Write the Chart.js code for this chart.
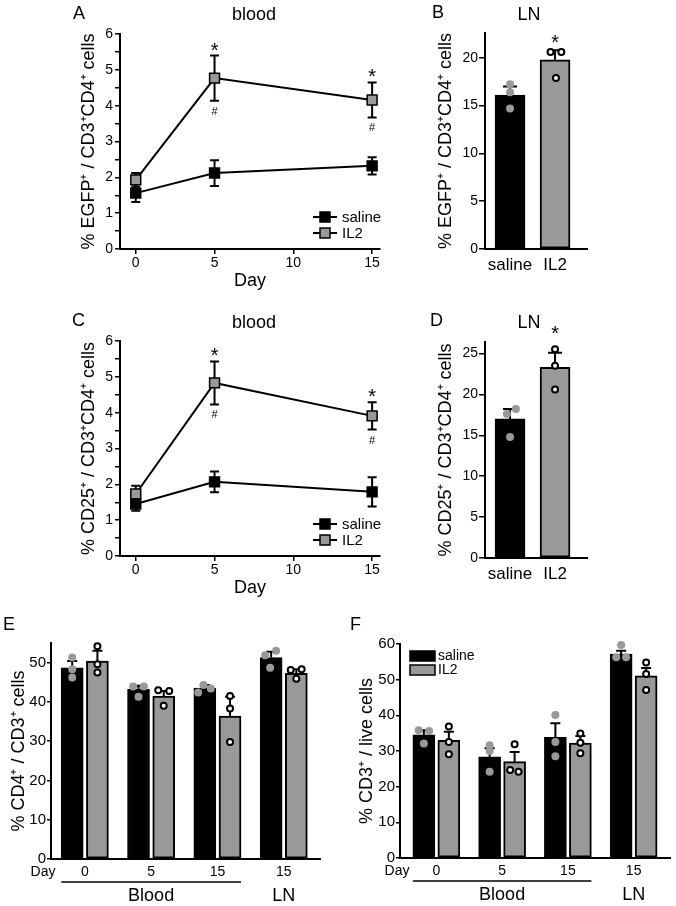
<!DOCTYPE html>
<html><head><meta charset="utf-8">
<script src="https://cdn.jsdelivr.net/npm/chart.js@4"></script>
<style>
html,body{margin:0;padding:0;background:#fff;}
#wrap{position:relative;width:676px;height:906px;overflow:hidden;font-family:"Liberation Sans",Arial,Helvetica,sans-serif;color:#000;}
canvas{position:absolute;left:0;top:0;}
.t{position:absolute;line-height:1;white-space:nowrap;font-size:18px;}
.c{width:100px;text-align:center;}
</style></head><body>
<div id="wrap">
<canvas id="cA" width="676" height="906"></canvas>
<canvas id="cB" width="676" height="906"></canvas>
<canvas id="cC" width="676" height="906"></canvas>
<canvas id="cD" width="676" height="906"></canvas>
<canvas id="cE" width="676" height="906"></canvas>
<canvas id="cF" width="676" height="906"></canvas>
<div class="t" style="left:73px;top:4px;">A</div>
<div class="t c" style="left:204px;top:5px;">blood</div>
<div class="t" style="left:432px;top:3px;">B</div>
<div class="t c" style="left:479px;top:5px;">LN</div>
<div class="t" style="left:72px;top:311px;">C</div>
<div class="t c" style="left:204px;top:313px;">blood</div>
<div class="t" style="left:430px;top:311px;">D</div>
<div class="t c" style="left:479px;top:313px;">LN</div>
<div class="t" style="left:3px;top:615px;">E</div>
<div class="t" style="left:350px;top:615px;">F</div>
</div>
<script>
// ---------------- DATA ----------------
const days = [0, 5, 15];
const dayTicks = [0, 5, 10, 15];
const seriesNames = ['saline', 'IL2'];
const lineYTicks = [0, 0.5, 1, 1.5, 2, 2.5, 3, 3.5, 4, 4.5, 5, 5.5, 6];

// Panel A (blood, EGFP+)
const aSaline = [1.56, 2.12, 2.32];
const aSalineErr = [0.25, 0.36, 0.24];
const aIL2 = [1.93, 4.77, 4.16];
const aIL2Err = [0.19, 0.63, 0.49];
const aSig = [false, true, true];

// Panel C (blood, CD25+)
const cSaline = [1.45, 2.07, 1.79];
const cSalineErr = [0.19, 0.29, 0.41];
const cIL2 = [1.73, 4.83, 3.91];
const cIL2Err = [0.23, 0.60, 0.38];
const cSig = [false, true, true];

// Panel B (LN, EGFP+)
const lnGroups = ['saline', 'IL2'];
const bYTicks = [0, 5, 10, 15, 20];
const bMeans = [16.1, 19.8];
const bSD = [0.9, 1.0];
const bDots = [[17.25, 16.4, 14.7], [20.6, 20.6, 17.9]];
const bJit = [[0, 0, 0], [-0.1, 0.14, 0.02]];
const bSig = [false, true];

// Panel D (LN, CD25+)
const dYTicks = [0, 5, 10, 15, 20, 25];
const dMeans = [17.0, 23.3];
const dSD = [1.2, 1.8];
const dDots = [[17.6, 18.2, 14.8], [25.5, 23.5, 20.6]];
const dJit = [[-0.07, 0.13, 0], [0, 0, 0]];
const dSig = [false, true];

// Panels E/F categories
const groupDays = ['0', '5', '15', '15'];
const groupTissue = ['Blood', 'Blood', 'Blood', 'LN'];

// Panel E (% CD4+ / CD3+)
const eYTicks = [0, 10, 20, 30, 40, 50];
const eSaline = [48.7, 43.2, 43.5, 51.3];
const eSalineErr = [1.7, 0.9, 0.8, 1.5];
const eIL2 = [50.4, 41.5, 36.4, 47.3];
const eIL2Err = [2.6, 1.3, 4.9, 1.0];
const eDotsSaline = [[51.3, 48.3, 46.2], [43.9, 43.9, 41.3], [42.4, 44.3, 43.4], [51.9, 53.0, 48.7]];
const eDotsIL2 = [[54.2, 49.6, 47.5], [43.0, 42.8, 39.0], [41.5, 38.3, 29.8], [48.1, 48.3, 45.9]];
const eJitSaline = [[0, 0, 0], [-0.08, 0.08, 0], [-0.1, -0.02, 0.09], [-0.09, 0.075, -0.015]];
const eJitIL2 = [[0, 0, 0], [-0.083, 0.083, 0], [0, 0, 0], [-0.085, 0.08, 0]];

// Panel F (% CD3+ / live)
const fYTicks = [0, 10, 20, 30, 40, 50, 60];
const fSaline = [34.5, 28.4, 33.8, 57.2];
const fSalineErr = [1.3, 2.4, 4.0, 0.9];
const fIL2 = [33.0, 27.0, 32.2, 51.1];
const fIL2Err = [2.4, 2.7, 2.0, 2.2];
const fDotsSaline = [[35.8, 35.6, 32.1], [31.6, 30.0, 24.2], [40.1, 32.5, 28.5], [59.7, 56.3, 56.3]];
const fDotsIL2 = [[36.9, 32.5, 29.1], [31.9, 24.7, 24.2], [34.9, 32.3, 29.4], [54.8, 51.6, 47.1]];
const fJitSaline = [[-0.08, 0.08, 0], [0, 0, 0], [0, 0, 0], [0, -0.075, 0.075]];
const fJitIL2 = [[0, 0, 0], [0, -0.068, 0.06], [0, 0, 0], [0, 0, 0]];

// ---------------- STYLE / LAYOUT ----------------
const FONT = '"Liberation Sans", Arial, Helvetica, sans-serif';
const GRAY = '#999999';
const PAGE_W = 676, PAGE_H = 906;
Chart.defaults.font.family = FONT;
Chart.defaults.color = '#000';
Chart.defaults.animation = false;
Chart.defaults.events = [];
Chart.defaults.plugins.legend.display = false;
Chart.defaults.plugins.tooltip.enabled = false;

function pad(area, yW, xH) {
  return { left: area.l - yW, top: area.t, right: PAGE_W - area.r, bottom: PAGE_H - area.b - xH };
}
const fixW = w => s => { s.width = w; };
const fixH = h => s => { s.height = h; };
const setTicks = vals => s => { s.ticks = vals.map(v => ({ value: v })); };
const BORDER = { display: true, color: '#000', width: 2 };

function yAxis(o) {
  return {
    type: 'linear', min: 0, max: o.max,
    afterBuildTicks: setTicks(o.ticks),
    afterFit: fixW(o.w),
    border: BORDER,
    grid: { display: true, drawOnChartArea: false, drawTicks: true, tickLength: o.tl, color: '#000', lineWidth: 1.5 },
    ticks: { font: { size: o.fs }, color: '#000', padding: o.tp, autoSkip: false, callback: o.cb || (v => v) },
    title: { display: true, text: o.title, font: { size: 18 }, color: '#000', padding: 0 }
  };
}

// error bars for line charts (both directions)
const lineErrPlugin = {
  id: 'lineErr',
  beforeDatasetsDraw(chart) {
    const { ctx } = chart; const ys = chart.scales.y;
    chart.data.datasets.forEach((ds, i) => {
      const meta = chart.getDatasetMeta(i);
      ctx.save(); ctx.strokeStyle = '#000'; ctx.lineWidth = 2;
      meta.data.forEach((el, j) => {
        const v = ds.data[j].y, e = ds.errors[j];
        const hi = ys.getPixelForValue(v + e), lo = ys.getPixelForValue(v - e);
        ctx.beginPath();
        ctx.moveTo(el.x, hi); ctx.lineTo(el.x, lo);
        ctx.moveTo(el.x - 4.5, hi); ctx.lineTo(el.x + 4.5, hi);
        ctx.moveTo(el.x - 4.5, lo); ctx.lineTo(el.x + 4.5, lo);
        ctx.stroke();
      });
      ctx.restore();
    });
  }
};
const lineSigPlugin = {
  id: 'lineSig',
  afterDatasetsDraw(chart) {
    const { ctx } = chart; const ys = chart.scales.y;
    chart.data.datasets.forEach((ds, i) => {
      if (!ds.sig) return;
      const meta = chart.getDatasetMeta(i);
      ctx.save(); ctx.fillStyle = '#000'; ctx.textAlign = 'center'; ctx.textBaseline = 'alphabetic';
      meta.data.forEach((el, j) => {
        if (!ds.sig[j]) return;
        const v = ds.data[j].y, e = ds.errors[j];
        ctx.font = '20px ' + FONT;
        ctx.fillText('*', el.x, ys.getPixelForValue(v + e) + 1);
        ctx.font = '11px ' + FONT;
        ctx.fillText('#', el.x, ys.getPixelForValue(v - e) + 14);
      });
      ctx.restore();
    });
  }
};
const lineLegendPlugin = {
  id: 'lineLegend',
  afterDatasetsDraw(chart) {
    const { ctx, chartArea } = chart;
    const cx = chartArea.right - 55;
    chart.data.datasets.forEach((ds, i) => {
      const y = chartArea.bottom - 32 + i * 16;
      ctx.save();
      ctx.strokeStyle = '#000'; ctx.lineWidth = 2;
      ctx.beginPath(); ctx.moveTo(cx - 12, y); ctx.lineTo(cx + 12, y); ctx.stroke();
      ctx.fillStyle = ds.pointBackgroundColor; ctx.lineWidth = 1.5;
      ctx.fillRect(cx - 5, y - 5, 10, 10); ctx.strokeRect(cx - 5, y - 5, 10, 10);
      ctx.fillStyle = '#000'; ctx.font = '15px ' + FONT; ctx.textAlign = 'left'; ctx.textBaseline = 'middle';
      ctx.fillText(ds.label, cx + 17, y + 1);
      ctx.restore();
    });
  }
};

function lineChart(id, area, sal, salErr, il2, il2Err, sig, yTitle) {
  const mk = (name, vals, errs, fill, s) => ({
    label: name, data: days.map((d, i) => ({ x: d, y: vals[i] })), errors: errs, sig: s,
    borderColor: '#000', borderWidth: 2, pointStyle: 'rect', pointRadius: 7, pointBorderWidth: 1.5,
    pointBackgroundColor: fill, pointBorderColor: '#000', tension: 0, clip: false, fill: false
  });
  return new Chart(document.getElementById(id), {
    type: 'line',
    data: { datasets: [mk(seriesNames[0], sal, salErr, '#000', null), mk(seriesNames[1], il2, il2Err, GRAY, sig)] },
    options: {
      responsive: false, layout: { padding: pad(area, 42, 43) },
      scales: {
        x: {
          type: 'linear', min: -1, max: 15.5, offset: false,
          afterBuildTicks: setTicks(dayTicks), afterFit: fixH(43), border: BORDER,
          grid: { display: true, drawOnChartArea: false, tickLength: 5, color: '#000', lineWidth: 1.5 },
          ticks: { font: { size: 14 }, color: '#000', padding: 1, autoSkip: false, maxRotation: 0 },
          title: { display: true, text: 'Day', font: { size: 18 }, color: '#000', padding: 0 }
        },
        y: yAxis({ max: 6, ticks: lineYTicks, w: 42, tl: 5, fs: 14, tp: 2, title: yTitle,
          cb: v => Number.isInteger(v) ? v : '' })
      }
    },
    plugins: [lineErrPlugin, lineSigPlugin, lineLegendPlugin]
  });
}

// error bars (upward) + significance for bar charts
const barErrPlugin = {
  id: 'barErr',
  afterDatasetDraw(chart, args) {
    const ds = chart.data.datasets[args.index];
    if (!ds.errors) return;
    const { ctx } = chart; const ys = chart.scales.y;
    ctx.save(); ctx.strokeStyle = '#000'; ctx.lineWidth = 2;
    args.meta.data.forEach((el, j) => {
      const top = ys.getPixelForValue(ds.data[j].y + ds.errors[j]);
      ctx.beginPath();
      ctx.moveTo(el.x, el.y); ctx.lineTo(el.x, top);
      ctx.moveTo(el.x - ds.cap / 2, top); ctx.lineTo(el.x + ds.cap / 2, top);
      ctx.stroke();
    });
    ctx.restore();
  },
  afterDatasetsDraw(chart) {
    const { ctx } = chart; const ys = chart.scales.y;
    chart.data.datasets.forEach((ds, i) => {
      if (!ds.sig) return;
      const meta = chart.getDatasetMeta(i);
      meta.data.forEach((el, j) => {
        if (!ds.sig[j]) return;
        let anchor = ys.getPixelForValue(ds.data[j].y + ds.errors[j]);
        ds.dotVals[j].forEach(v => { anchor = Math.min(anchor, ys.getPixelForValue(v) - 4); });
        ctx.save(); ctx.fillStyle = '#000'; ctx.textAlign = 'center'; ctx.textBaseline = 'alphabetic';
        ctx.font = '20px ' + FONT;
        ctx.fillText('*', el.x, anchor + ds.starGap);
        ctx.restore();
      });
    });
  }
};

function dotSet(vals, jit, off, saline) {
  const pts = [];
  vals.forEach((arr, g) => arr.forEach((v, k) => pts.push({ x: g + 1 + off + jit[g][k], y: v })));
  return saline
    ? { type: 'scatter', data: pts, pointRadius: 4, pointBorderWidth: 0, pointBackgroundColor: GRAY, pointBorderColor: GRAY, order: 1, clip: false }
    : { type: 'scatter', data: pts, pointRadius: 3, pointBorderWidth: 2, pointBackgroundColor: '#fff', pointBorderColor: '#000', order: 1, clip: false };
}

function lnChart(id, area, means, sd, dots, jit, sig, yMax, yTicks, yTitle, starGap) {
  return new Chart(document.getElementById(id), {
    type: 'bar',
    data: { datasets: [
      { type: 'bar', data: means.map((m, i) => ({ x: i + 1, y: m })), errors: sd, sig: sig, dotVals: dots, starGap: starGap, cap: 14,
        backgroundColor: ['#000', GRAY], borderColor: '#000', borderWidth: 2, borderSkipped: false,
        barThickness: 30, grouped: false, order: 2 },
      dotSet([dots[0], []], jit, 0, true),
      dotSet([[], dots[1]], jit, 0, false)
    ] },
    options: {
      responsive: false, layout: { padding: pad(area, 50, 30) },
      scales: {
        x: {
          type: 'linear', min: 0.444, max: 2.71, offset: false,
          afterBuildTicks: setTicks([1, 2]), afterFit: fixH(30), border: BORDER,
          grid: { display: true, drawOnChartArea: false, drawTicks: false, offset: false },
          ticks: { font: { size: 17 }, color: '#000', padding: 6, autoSkip: false, maxRotation: 0, callback: (v, i) => lnGroups[i] }
        },
        y: yAxis({ max: yMax, ticks: yTicks, w: 50, tl: 6, fs: 14, tp: 1, title: yTitle })
      }
    },
    plugins: [barErrPlugin]
  });
}

const PAIR = 0.19;
function pairedChart(id, area, yW, xMin, xMax, yMax, yTicks, yTitle, sal, salErr, il2, il2Err, dS, jS, dI, jI, dayDx, withLegend) {
  const legendPlugin = {
    id: 'barLegend',
    afterDatasetsDraw(chart) {
      if (!withLegend) return;
      const { ctx, chartArea } = chart;
      [['#000', seriesNames[0]], [GRAY, seriesNames[1]]].forEach(([c, name], i) => {
        const x = chartArea.left + 10, y = chartArea.top + 7 + i * 14;
        ctx.save();
        ctx.fillStyle = c; ctx.fillRect(x, y, 25, 10);
        ctx.strokeStyle = '#000'; ctx.lineWidth = 1.5; ctx.strokeRect(x, y, 25, 10);
        ctx.fillStyle = '#000'; ctx.font = '14px ' + FONT; ctx.textAlign = 'left'; ctx.textBaseline = 'middle';
        ctx.fillText(name, x + 28, y + 5.5);
        ctx.restore();
      });
    }
  };
  const groupPlugin = {
    id: 'groupLabels',
    afterDraw(chart) {
      const { ctx, chartArea } = chart;
      const xs = chart.scales.x;
      const ms = chart.getDatasetMeta(0), mi = chart.getDatasetMeta(1);
      ctx.save(); ctx.fillStyle = '#000'; ctx.strokeStyle = '#000';
      ctx.font = '14px ' + FONT; ctx.textAlign = 'center'; ctx.textBaseline = 'middle';
      ctx.fillText('Day', chartArea.left + dayDx, chartArea.bottom + 13.5);
      // tissue spans
      let s = 0;
      for (let g = 1; g <= groupTissue.length; g++) {
        if (g === groupTissue.length || groupTissue[g] !== groupTissue[s]) {
          const e = g - 1;
          const left = ms.data[s].x - ms.data[s].width / 2;
          const right = mi.data[e].x + mi.data[e].width / 2;
          if (e > s) {
            ctx.lineWidth = 1.5;
            ctx.beginPath(); ctx.moveTo(left, chartArea.bottom + 23); ctx.lineTo(right, chartArea.bottom + 23); ctx.stroke();
          }
          ctx.font = '18px ' + FONT;
          ctx.fillText(groupTissue[s], (xs.getPixelForValue(s + 1) + xs.getPixelForValue(e + 1)) / 2, chartArea.bottom + 37);
          s = g;
        }
      }
      ctx.restore();
    }
  };
  const groups = sal.map((_, i) => i + 1);
  return new Chart(document.getElementById(id), {
    type: 'bar',
    data: { datasets: [
      { type: 'bar', label: seriesNames[0], data: groups.map((g, i) => ({ x: g - PAIR, y: sal[i] })), errors: salErr, cap: 10,
        backgroundColor: '#000', borderColor: '#000', borderWidth: 2, borderSkipped: false, barThickness: 22, grouped: false, order: 2 },
      { type: 'bar', label: seriesNames[1], data: groups.map((g, i) => ({ x: g + PAIR, y: il2[i] })), errors: il2Err, cap: 10,
        backgroundColor: GRAY, borderColor: '#000', borderWidth: 2, borderSkipped: false, barThickness: 22, grouped: false, order: 2 },
      dotSet(dS, jS, -PAIR, true),
      dotSet(dI, jI, PAIR, false)
    ] },
    options: {
      responsive: false, layout: { padding: pad(area, yW, 28) },
      scales: {
        x: {
          type: 'linear', min: xMin, max: xMax, offset: false,
          afterBuildTicks: setTicks(groups), afterFit: fixH(28), border: BORDER,
          grid: { display: true, drawOnChartArea: false, drawTicks: false, offset: false },
          ticks: { font: { size: 14 }, color: '#000', padding: 5, autoSkip: false, maxRotation: 0, callback: (v, i) => groupDays[i] }
        },
        y: yAxis({ max: yMax, ticks: yTicks, w: yW, tl: 4, fs: 15, tp: 1, title: yTitle })
      }
    },
    plugins: [barErrPlugin, legendPlugin, groupPlugin]
  });
}

lineChart('cA', { l: 120, r: 380, t: 34, b: 249 }, aSaline, aSalineErr, aIL2, aIL2Err, aSig, '% EGFP\u207A / CD3\u207ACD4\u207A cells');
lineChart('cC', { l: 120, r: 380, t: 341, b: 556 }, cSaline, cSalineErr, cIL2, cIL2Err, cSig, '% CD25\u207A / CD3\u207ACD4\u207A cells');
lnChart('cB', { l: 485, r: 587, t: 33, b: 249 }, bMeans, bSD, bDots, bJit, bSig, 22.6, bYTicks, '% EGFP\u207A / CD3\u207ACD4\u207A cells', 1);
lnChart('cD', { l: 485, r: 587, t: 342, b: 558 }, dMeans, dSD, dDots, dJit, dSig, 26.4, dYTicks, '% CD25\u207A / CD3\u207ACD4\u207A cells', -5);
pairedChart('cE', { l: 51, r: 320, t: 643, b: 859 }, 43, 0.49, 4.547, 55, eYTicks, '% CD4\u207A / CD3\u207A cells',
  eSaline, eSalineErr, eIL2, eIL2Err, eDotsSaline, eJitSaline, eDotsIL2, eJitIL2, -8, false);
pairedChart('cF', { l: 400, r: 673, t: 644, b: 858 }, 44, 0.447, 4.553, 60, fYTicks, '% CD3\u207A / live cells',
  fSaline, fSalineErr, fIL2, fIL2Err, fDotsSaline, fJitSaline, fDotsIL2, fJitIL2, -3, true);
</script>
</body></html>
